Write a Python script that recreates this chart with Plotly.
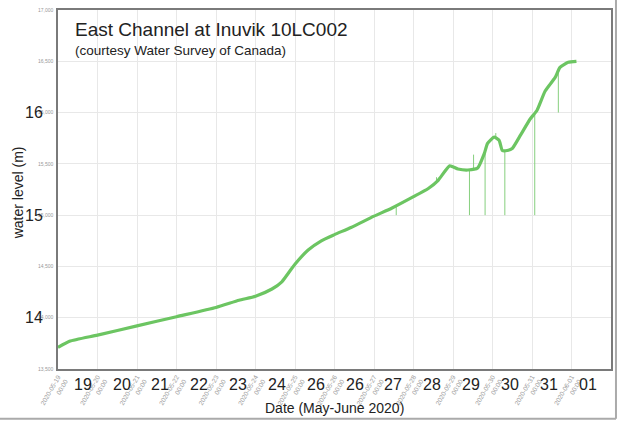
import plotly.graph_objects as go
import pandas as pd

# ---- data ----
times = [
    "2020-05-19 00:00", "2020-05-19 07:00", "2020-05-20 00:00", "2020-05-21 00:00",
    "2020-05-22 00:00", "2020-05-23 00:00", "2020-05-23 14:00", "2020-05-24 00:00",
    "2020-05-24 10:00", "2020-05-24 16:00", "2020-05-24 22:00", "2020-05-25 02:00",
    "2020-05-25 08:00", "2020-05-25 16:00", "2020-05-26 00:00", "2020-05-26 10:00",
    "2020-05-27 00:00", "2020-05-27 11:00", "2020-05-28 00:00", "2020-05-28 09:00",
    "2020-05-28 15:00", "2020-05-28 22:00", "2020-05-29 03:00", "2020-05-29 09:00",
    "2020-05-29 15:00", "2020-05-29 19:00", "2020-05-29 21:00", "2020-05-30 01:00",
    "2020-05-30 04:00", "2020-05-30 06:00", "2020-05-30 09:00", "2020-05-30 12:00",
    "2020-05-30 17:00", "2020-05-30 23:00", "2020-05-31 03:00", "2020-05-31 08:00",
    "2020-05-31 14:00", "2020-05-31 17:00", "2020-05-31 22:00", "2020-06-01 03:00",
]
levels = [
    13.71, 13.77, 13.83, 13.92,
    14.01, 14.10, 14.17, 14.21,
    14.28, 14.35, 14.48, 14.56,
    14.66, 14.75, 14.81, 14.88,
    14.99, 15.07, 15.18, 15.26,
    15.34, 15.48, 15.45, 15.44,
    15.46, 15.60, 15.70, 15.76,
    15.73, 15.63, 15.63, 15.65,
    15.78, 15.94, 16.02, 16.21,
    16.34, 16.44, 16.49, 16.50,
]

spike_times = ["2020-05-27 13:30", "2020-05-28 14:00", "2020-05-29 10:00", "2020-05-29 12:30",
               "2020-05-29 19:30", "2020-05-30 02:00", "2020-05-30 07:30", "2020-05-31 01:40",
               "2020-05-31 16:00"]
spike_from = [15.09, 15.31, 15.45, 15.45, 15.60, 15.75, 15.63, 15.98, 16.42]
spike_to = [15.00, 15.37, 15.00, 15.59, 15.00, 15.80, 15.00, 15.00, 16.00]

day_ticks = ["2020-05-19", "2020-05-20", "2020-05-21", "2020-05-22", "2020-05-23",
             "2020-05-24", "2020-05-25", "2020-05-26", "2020-05-27", "2020-05-28",
             "2020-05-29", "2020-05-30", "2020-05-31", "2020-06-01"]
day_labels = ["19", "20", "21", "22", "23", "24", "26", "26", "27", "28", "29", "30", "31", "01"]

y_ticks = [13.5, 14.0, 14.5, 15.0, 15.5, 16.0, 16.5, 17.0]
y_ticklabels = ["13,500", "14,000", "14,500", "15,000", "15,500", "16,000", "16,500", "17,000"]
big_y = [14, 15, 16]

title = "East Channel at Inuvik 10LC002"
subtitle = "(courtesy Water Survey of Canada)"
y_title = "water level (m)"
x_title = "Date (May-June 2020)"

# ---- figure ----
FONT = "Liberation Sans, Arial, sans-serif"
GREEN = "#6cc562"

sx, sy = [], []
for t, a, b in zip(spike_times, spike_from, spike_to):
    sx += [t, t, None]
    sy += [a, b, None]

fig = go.Figure()
fig.add_trace(go.Scatter(x=sx, y=sy, mode="lines",
                         line=dict(color="#86cf7e", width=1), hoverinfo="skip"))
fig.add_trace(go.Scatter(x=pd.to_datetime(times), y=levels, mode="lines",
                         line=dict(color=GREEN, width=3.2, shape="spline", smoothing=0.5)))

tick_text = [d + "<br>00:00" for d in day_ticks]

fig.update_layout(
    width=620, height=421,
    margin=dict(l=58, r=7, t=8, b=52),
    paper_bgcolor="white", plot_bgcolor="white",
    showlegend=False,
    font=dict(family=FONT, color="#222"),
    xaxis=dict(
        range=["2020-05-19 00:00", "2020-06-02 00:00"],
        tickvals=day_ticks, ticktext=tick_text, tickangle=-60,
        tickfont=dict(size=6.5, color="#999"),
        showgrid=True, gridcolor="#e8e8e8", gridwidth=1,
        showline=True, linecolor="#7a7a7a", linewidth=1.5, mirror=True,
        ticks="", zeroline=False,
    ),
    yaxis=dict(
        range=[13.5, 17.0],
        tickvals=y_ticks, ticktext=y_ticklabels,
        tickfont=dict(size=5, color="#999"),
        showgrid=True, gridcolor="#e8e8e8", gridwidth=1,
        showline=True, linecolor="#7a7a7a", linewidth=1.5, mirror=True,
        ticks="", zeroline=False, ticklabelstandoff=2,
    ),
)

ann = []
for k, (d, lab) in enumerate(zip(day_ticks, day_labels)):
    xpos = pd.Timestamp(d) + pd.Timedelta(hours=15 - 0.4 * k)
    ann.append(dict(x=xpos, y=0, xref="x", yref="paper", text=lab, showarrow=False,
                    xanchor="center", yanchor="middle", yshift=-15,
                    font=dict(size=16, color="#222", family=FONT)))
for v in big_y:
    ann.append(dict(x=-0.043, y=v, xref="paper", yref="y", text=str(v), showarrow=False,
                    xanchor="center", yanchor="middle",
                    font=dict(size=16, color="#222", family=FONT)))
ann.append(dict(x=0.027, y=0.946, xref="paper", yref="paper", text=title, showarrow=False,
                xanchor="left", yanchor="middle", font=dict(size=19, color="#222", family=FONT)))
ann.append(dict(x=0.027, y=0.888, xref="paper", yref="paper", text=subtitle, showarrow=False,
                xanchor="left", yanchor="middle", font=dict(size=13.5, color="#222", family=FONT)))
ann.append(dict(x=-0.072, y=0.49, xref="paper", yref="paper", text=y_title, showarrow=False,
                textangle=-90, xanchor="center", yanchor="middle",
                font=dict(size=14, color="#222", family=FONT)))
ann.append(dict(x=0.5, y=0, xref="paper", yref="paper", text=x_title, showarrow=False,
                xanchor="center", yanchor="middle", yshift=-39,
                font=dict(size=14, color="#222", family=FONT)))
fig.update_layout(annotations=ann)

# outer frame lines (bottom and right) of the picture
fig.add_shape(type="line", xref="paper", yref="paper", x0=-0.2, x1=1.009, y0=-0.1385, y1=-0.1385,
              line=dict(color="#aaa", width=2))
fig.add_shape(type="line", xref="paper", yref="paper", x0=1.009, x1=1.009, y0=-0.1385, y1=1.03,
              line=dict(color="#aaa", width=2))

fig.write_html("out.html", post_script="document.body.style.margin='0';",
               config={"displayModeBar": False})
